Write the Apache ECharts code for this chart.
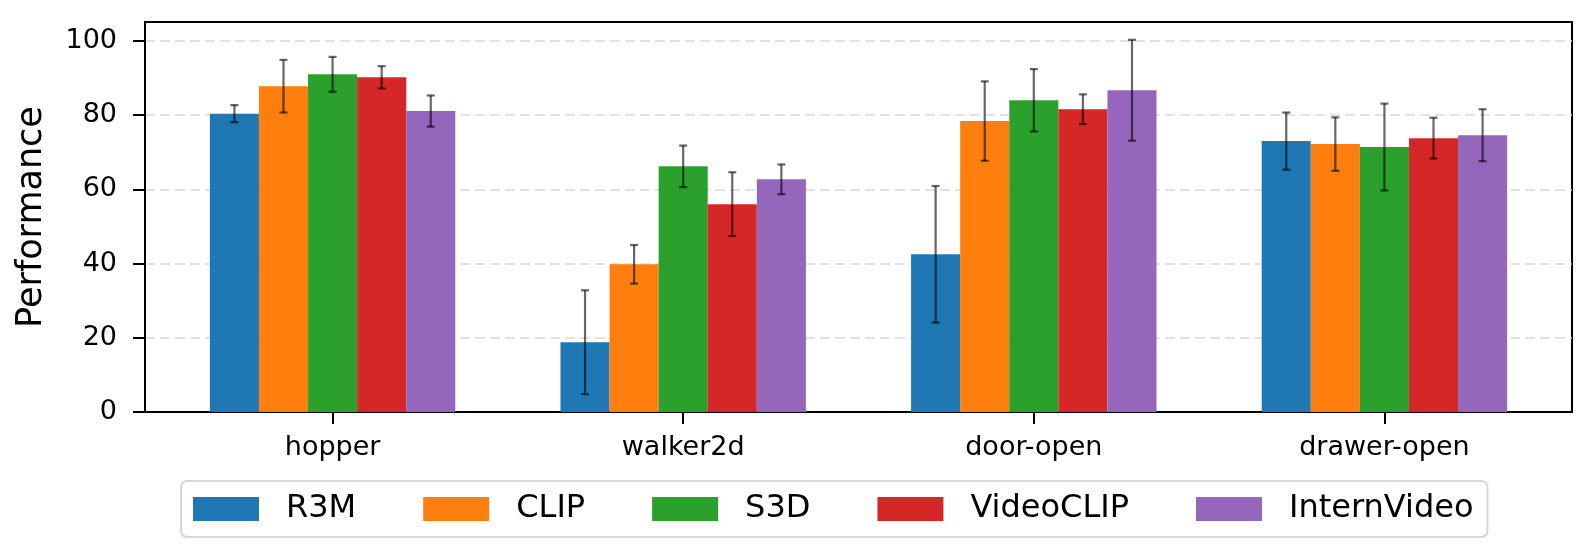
<!DOCTYPE html>
<html>
<head>
<meta charset="utf-8">
<script src="https://cdn.jsdelivr.net/npm/echarts@6/dist/echarts.min.js"></script>
<style>
    html, body { margin: 0; padding: 0; background: #fff; }
    #chart { width: 1590px; height: 548px; }
</style>
</head>
<body>
<div id="chart"></div>
<script>
// categories and methods
const categories = ['hopper', 'walker2d', 'door-open', 'drawer-open']
const methods = ['R3M', 'CLIP', 'S3D', 'VideoCLIP', 'InternVideo']
const colors = ['#1f77b4', '#ff7f0e', '#2ca02c', '#d62728', '#9467bd']

// mean performance per method (hopper, walker2d, door-open, drawer-open)
const r3m = [80.4, 18.8, 42.5, 73.0]
const clip = [87.8, 39.8, 78.4, 72.2]
const s3d = [91.0, 66.2, 84.0, 71.4]
const videoclip = [90.2, 56.0, 81.6, 73.8]
const internvideo = [81.1, 62.7, 86.7, 74.6]

// error bar half-widths
const r3mErr = [2.3, 14.0, 18.4, 7.7]
const clipErr = [7.1, 5.2, 10.7, 7.2]
const s3dErr = [4.7, 5.6, 8.4, 11.7]
const videoclipErr = [3.0, 8.6, 4.0, 5.5]
const internvideoErr = [4.2, 4.0, 13.6, 7.0]

const yTicks = [0, 20, 40, 60, 80, 100]

const means = [r3m, clip, s3d, videoclip, internvideo]
const errs = [r3mErr, clipErr, s3dErr, videoclipErr, internvideoErr]

const barW = 0.14
const font = 'DejaVu Sans'

var myChart = echarts.init(document.getElementById('chart'))

// bar + error bar for one (category, method)
function renderItem(params, api) {
    const c = api.value(0)
    const v = api.value(1)
    const e = api.value(2)
    const off = (params.seriesIndex - 2) * barW
    const tl = api.coord([c + off - barW / 2, v])
    const br = api.coord([c + off + barW / 2, 0])
    const top = api.coord([c + off, v + e])
    const bot = api.coord([c + off, v - e])
    const errStyle = { stroke: 'rgba(0,0,0,0.6)', lineWidth: 2.2 }
    return {
        type: 'group',
        children: [
            {
                type: 'rect',
                shape: { x: tl[0], y: tl[1], width: br[0] - tl[0], height: br[1] - tl[1] },
                style: { fill: api.visual('color') },
            },
            {
                type: 'line',
                shape: { x1: top[0], y1: top[1], x2: bot[0], y2: bot[1] },
                style: errStyle,
            },
            {
                type: 'line',
                shape: { x1: top[0] - 4, y1: top[1], x2: top[0] + 4, y2: top[1] },
                style: errStyle,
            },
            {
                type: 'line',
                shape: { x1: bot[0] - 4, y1: bot[1], x2: bot[0] + 4, y2: bot[1] },
                style: errStyle,
            },
        ],
    }
}

const series = methods.map((name, i) => ({
    name: name,
    type: 'custom',
    renderItem: renderItem,
    itemStyle: { color: colors[i] },
    encode: { x: 0, y: 1 },
    data: categories.map((_, j) => [j, means[i][j], errs[i][j]]),
    z: 3,
}))

var option = {
    animation: false,
    color: colors,
    grid: {
        left: 145,
        right: 18,
        top: 22,
        bottom: 136,
        show: true,
        borderColor: '#000',
        borderWidth: 2,
        backgroundColor: 'transparent',
    },
    legend: {
        data: methods,
        left: 181,
        top: 481,
        icon: 'rect',
        itemWidth: 66,
        itemHeight: 24,
        itemGap: 67,
        padding: [12, 14, 12, 12],
        borderColor: '#d6d6d6',
        borderWidth: 2,
        borderRadius: 6,
        backgroundColor: '#fff',
        itemStyle: { borderWidth: 0 },
        textStyle: {
            fontFamily: font,
            fontSize: 32,
            color: '#000',
            padding: [0, 0, 0, 22],
        },
    },
    xAxis: {
        type: 'value',
        min: -0.535,
        max: 3.535,
        axisLine: { show: true, onZero: false, lineStyle: { color: '#000', width: 2 } },
        axisTick: {
            show: true,
            customValues: [0, 1, 2, 3],
            length: 12,
            lineStyle: { color: '#000', width: 2 },
        },
        axisLabel: {
            customValues: [0, 1, 2, 3],
            formatter: v => categories[Math.round(v)],
            fontFamily: font,
            fontSize: 27,
            color: '#000',
            margin: 22,
        },
        splitLine: { show: false },
    },
    yAxis: {
        type: 'value',
        min: 0,
        max: 105.1,
        interval: 20,
        name: 'Performance',
        nameLocation: 'middle',
        nameGap: 96,
        nameTextStyle: { fontFamily: font, fontSize: 35, color: '#000' },
        axisLine: { show: true, onZero: false, lineStyle: { color: '#000', width: 2 } },
        axisTick: {
            show: true,
            customValues: yTicks,
            length: 12,
            lineStyle: { color: '#000', width: 2 },
        },
        axisLabel: {
            customValues: yTicks,
            fontFamily: font,
            fontSize: 27,
            color: '#000',
            margin: 28,
        },
        splitLine: {
            show: true,
            lineStyle: { color: '#d9d9d9', width: 1.6, type: [10, 5] },
        },
    },
    series: series,
}

myChart.setOption(option)
window.addEventListener('resize', function() {
    myChart.resize()
})
</script>
</body>
</html>
